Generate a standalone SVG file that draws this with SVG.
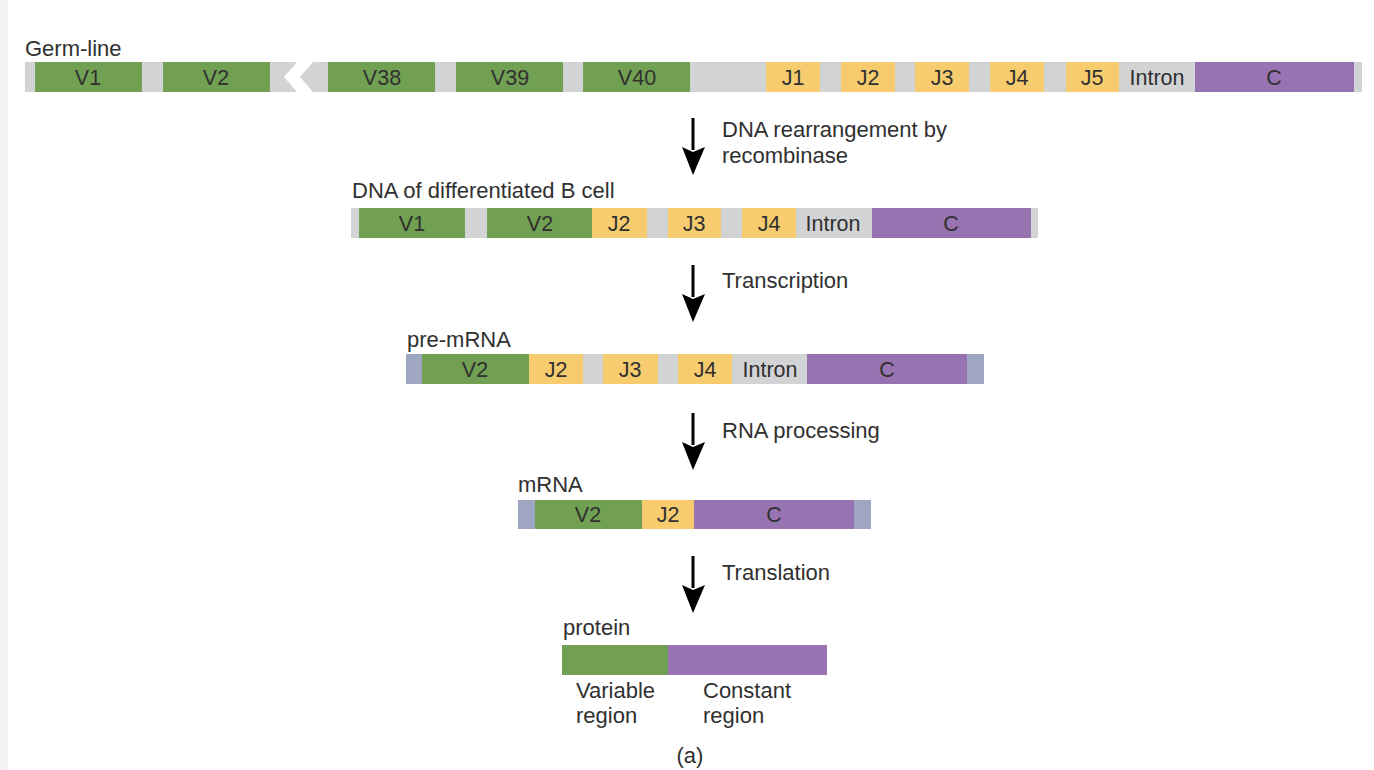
<svg xmlns="http://www.w3.org/2000/svg" width="1374" height="770" viewBox="0 0 1374 770">
<defs>
<style>
text{font-family:"Liberation Sans",Arial,sans-serif;fill:#303030;}
.lab{font-size:21.5px;text-anchor:middle;}
.cap{font-size:22px;}
.g{fill:#d1d3d4;}
.v{fill:#72a052;}
.j{fill:#f7cc6e;}
.c{fill:#9873b1;}
.b{fill:#9ea6c2;}
.shaft{stroke:#000;stroke-width:3;fill:none;}
</style>
</defs>
<rect width="1374" height="770" fill="#fff"/>
<rect x="0" y="0" width="8" height="770" fill="#f3f3f3"/>

<g id="germline">
<text class="cap" x="25" y="56">Germ-line</text>
<path class="g" d="M25,62 H297 L284,77 L297,92 H25 Z"/>
<path class="g" d="M313,62 H1362 V92 H313 L300,77 Z"/>
<rect class="v" x="35" y="62" width="107" height="30"/>
<rect class="v" x="163" y="62" width="107" height="30"/>
<rect class="v" x="328" y="62" width="107" height="30"/>
<rect class="v" x="456" y="62" width="107" height="30"/>
<rect class="v" x="583" y="62" width="107" height="30"/>
<rect class="j" x="766" y="62" width="54" height="30"/>
<rect class="j" x="841" y="62" width="54" height="30"/>
<rect class="j" x="915" y="62" width="54" height="30"/>
<rect class="j" x="990" y="62" width="54" height="30"/>
<rect class="j" x="1066" y="62" width="53" height="30"/>
<rect class="c" x="1195" y="62" width="159" height="30"/>
<text class="lab" x="88" y="85">V1</text>
<text class="lab" x="216" y="85">V2</text>
<text class="lab" x="382" y="85">V38</text>
<text class="lab" x="510" y="85">V39</text>
<text class="lab" x="637" y="85">V40</text>
<text class="lab" x="793" y="85">J1</text>
<text class="lab" x="868" y="85">J2</text>
<text class="lab" x="942" y="85">J3</text>
<text class="lab" x="1017" y="85">J4</text>
<text class="lab" x="1092" y="85">J5</text>
<text class="lab" x="1157" y="85">Intron</text>
<text class="lab" x="1274" y="85">C</text>
</g>

<g id="bcell">
<text class="cap" x="352" y="198">DNA of differentiated B cell</text>
<rect class="g" x="351" y="208" width="687" height="30"/>
<rect class="v" x="359" y="208" width="106" height="30"/>
<rect class="v" x="487" y="208" width="105" height="30"/>
<rect class="j" x="592" y="208" width="55" height="30"/>
<rect class="j" x="668" y="208" width="53" height="30"/>
<rect class="j" x="742" y="208" width="54" height="30"/>
<rect class="c" x="872" y="208" width="159" height="30"/>
<text class="lab" x="412" y="231">V1</text>
<text class="lab" x="540" y="231">V2</text>
<text class="lab" x="619" y="231">J2</text>
<text class="lab" x="694" y="231">J3</text>
<text class="lab" x="769" y="231">J4</text>
<text class="lab" x="833" y="231">Intron</text>
<text class="lab" x="951" y="231">C</text>
</g>

<g id="premrna">
<text class="cap" x="407" y="347">pre-mRNA</text>
<rect class="g" x="406" y="354" width="578" height="30"/>
<rect class="b" x="406" y="354" width="16" height="30"/>
<rect class="v" x="422" y="354" width="107" height="30"/>
<rect class="j" x="529" y="354" width="54" height="30"/>
<rect class="j" x="603" y="354" width="55" height="30"/>
<rect class="j" x="678" y="354" width="54" height="30"/>
<rect class="c" x="807" y="354" width="160" height="30"/>
<rect class="b" x="967" y="354" width="17" height="30"/>
<text class="lab" x="475" y="377">V2</text>
<text class="lab" x="556" y="377">J2</text>
<text class="lab" x="630" y="377">J3</text>
<text class="lab" x="705" y="377">J4</text>
<text class="lab" x="770" y="377">Intron</text>
<text class="lab" x="887" y="377">C</text>
</g>

<g id="mrna">
<text class="cap" x="518" y="492">mRNA</text>
<rect class="b" x="518" y="500" width="353" height="29"/>
<rect class="v" x="535" y="500" width="107" height="29"/>
<rect class="j" x="642" y="500" width="52" height="29"/>
<rect class="c" x="694" y="500" width="160" height="29"/>
<text class="lab" x="588" y="522">V2</text>
<text class="lab" x="668" y="522">J2</text>
<text class="lab" x="774" y="522">C</text>
</g>

<g id="protein">
<text class="cap" x="563" y="635">protein</text>
<rect class="v" x="562" y="645" width="106" height="30"/>
<rect class="c" x="668" y="645" width="159" height="30"/>
<text class="cap" x="576" y="698">Variable</text>
<text class="cap" x="576" y="723">region</text>
<text class="cap" x="703" y="698">Constant</text>
<text class="cap" x="703" y="723">region</text>
</g>

<g id="connectors">
<line class="shaft" x1="693" y1="118" x2="693" y2="150"/>
<path d="M682,147 L693,175 L705,147 L693,152 Z" fill="#000"/>
<line class="shaft" x1="693" y1="265" x2="693" y2="297"/>
<path d="M682,294 L693,322 L705,294 L693,299 Z" fill="#000"/>
<line class="shaft" x1="693" y1="413" x2="693" y2="445"/>
<path d="M682,442 L693,470 L705,442 L693,447 Z" fill="#000"/>
<line class="shaft" x1="693" y1="556" x2="693" y2="588"/>
<path d="M682,585 L693,613 L705,585 L693,590 Z" fill="#000"/>
</g>

<g id="step-labels">
<text class="cap" x="722" y="137">DNA rearrangement by</text>
<text class="cap" x="722" y="163">recombinase</text>
<text class="cap" x="722" y="288">Transcription</text>
<text class="cap" x="722" y="438">RNA processing</text>
<text class="cap" x="722" y="580">Translation</text>
<text class="cap" x="690" y="763" text-anchor="middle">(a)</text>
</g>
</svg>
